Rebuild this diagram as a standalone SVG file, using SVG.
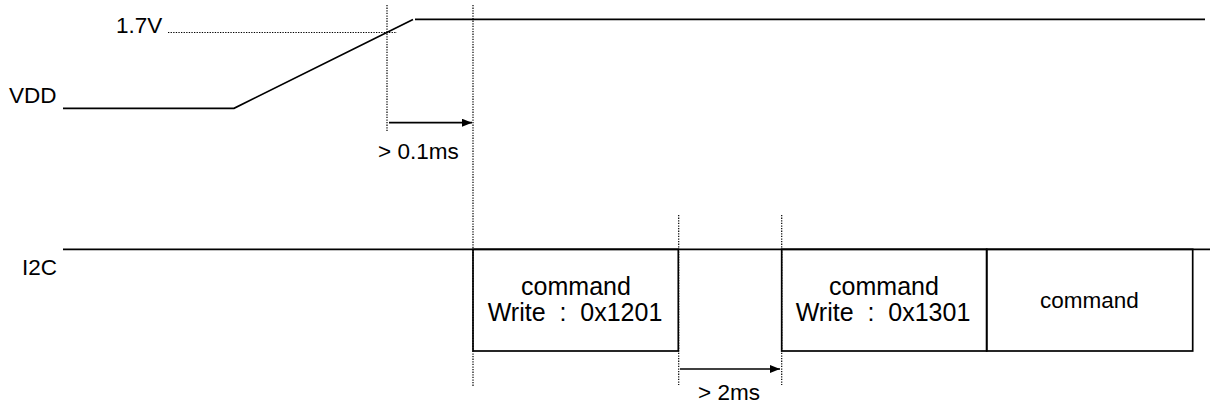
<svg xmlns="http://www.w3.org/2000/svg" width="1210" height="405" viewBox="0 0 1210 405">
  <style>
    text { font-family: "Liberation Sans", Arial, sans-serif; fill: #000; }
    .lbl { font-size: 22.5px; }
    .box { font-size: 25px; }
    .sig { fill: none; stroke: #000; stroke-width: 1.7; }
    .dot { fill: none; stroke: #000; stroke-width: 1.2; stroke-dasharray: 1.3 1.3; }
    .arr { fill: none; stroke: #000; stroke-width: 1.7; }
  </style>
  <defs>
    <marker id="ah" markerWidth="10" markerHeight="8" refX="10" refY="4" orient="auto" markerUnits="userSpaceOnUse">
      <path d="M0,0 L10,4 L0,8 Z" fill="#000"/>
    </marker>
  </defs>
  <rect width="1210" height="405" fill="#fff"/>

  <g id="vdd">
    <text class="lbl" x="9" y="103">VDD</text>
    <polyline class="sig" points="63,108.3 234,108.3 413,19.5"/>
    <line class="sig" x1="415" y1="19.3" x2="1205" y2="19.3"/>
  </g>

  <g id="threshold">
    <text class="lbl" x="116" y="33">1.7V</text>
    <line class="dot" x1="168" y1="32.5" x2="397" y2="32.5"/>
  </g>

  <g id="i2c">
    <text class="lbl" x="22" y="275">I2C</text>
    <line class="sig" x1="63" y1="249.3" x2="1210" y2="249.3"/>
  </g>

  <g id="cmd1">
    <rect class="sig" x="473" y="249.3" width="205.3" height="101.7"/>
    <text class="box" x="576" y="295" text-anchor="middle">command</text>
    <text class="box" x="575" y="321" text-anchor="middle" xml:space="preserve">Write  :  0x1201</text>
  </g>

  <g id="cmd2">
    <rect class="sig" x="781.7" y="249.3" width="205" height="101.7"/>
    <text class="box" x="884" y="295" text-anchor="middle">command</text>
    <text class="box" x="883" y="321" text-anchor="middle" xml:space="preserve">Write  :  0x1301</text>
  </g>

  <g id="cmd3">
    <rect class="sig" x="986.7" y="249.3" width="206" height="101.7"/>
    <text class="lbl" x="1089.5" y="308" text-anchor="middle">command</text>
  </g>

  <g id="connectors">
    <line class="dot" x1="387" y1="5" x2="387" y2="131"/>
    <line class="dot" x1="473" y1="5" x2="473" y2="387"/>
    <line class="dot" x1="678.7" y1="215" x2="678.7" y2="385"/>
    <line class="dot" x1="781.7" y1="215" x2="781.7" y2="385"/>
    <line class="arr" x1="389" y1="122.7" x2="472" y2="122.7" marker-end="url(#ah)"/>
    <line class="arr" x1="680" y1="369" x2="780" y2="369" marker-end="url(#ah)"/>
  </g>

  <g id="timing-labels">
    <text class="lbl" x="378" y="159">&gt; 0.1ms</text>
    <text class="lbl" x="698" y="400">&gt; 2ms</text>
  </g>
</svg>
